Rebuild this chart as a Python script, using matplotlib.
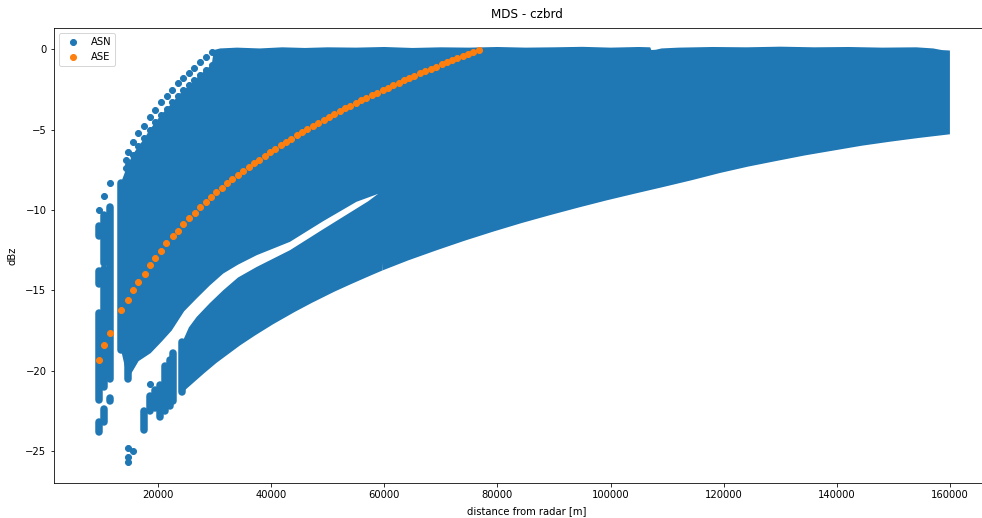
import numpy as np
import matplotlib.pyplot as plt

# ASE - one point per range bin (distance [m], dBz)
ase_x = [9610, 10550, 11560, 13500, 14680, 15620, 16560, 17690, 18570, 19510,
         20630, 21510, 22640, 23580, 24520, 25590, 26590, 27530, 28470,
         29370, 30370, 31270, 32270, 33170, 34170, 35070, 36070, 36980, 37880,
         38880, 39790, 40790, 41690, 42690, 43590, 44590, 45500, 46400, 47400,
         48300, 49310, 50210, 51210, 52110, 53110, 54020, 55020, 55920, 56820,
         57820, 58720, 59730, 60630, 61630, 62530, 63540, 64440, 65340, 66340,
         67240, 68240, 69150, 70150, 71050, 72050, 72950, 73950, 74850, 75750, 76760]
ase_y = [-19.34, -18.41, -17.64, -16.23, -15.57, -14.99, -14.47, -13.95, -13.43, -12.96,
         -12.52, -12.05, -11.63, -11.28, -10.86, -10.49, -10.16, -9.83, -9.50,
         -9.21, -8.91, -8.64, -8.35, -8.10, -7.83, -7.59, -7.33, -7.10, -6.88,
         -6.63, -6.42, -6.19, -5.98, -5.76, -5.56, -5.35, -5.16, -4.97, -4.77,
         -4.59, -4.39, -4.22, -4.03, -3.86, -3.68, -3.51, -3.34, -3.18, -3.02,
         -2.85, -2.70, -2.53, -2.39, -2.23, -2.08, -1.93, -1.79, -1.64, -1.50,
         -1.36, -1.21, -1.08, -0.94, -0.81, -0.67, -0.54, -0.40, -0.28, -0.16, -0.05]

# ASN - outer arcs in the upper left
arc_x = [14680, 15560, 16570, 17630, 18560, 19560, 20560, 21560, 22570, 23510,
         24510, 25560, 26450, 27450, 28450, 29520]
arc1_y = [-6.39, -5.76, -5.24, -4.75, -4.21, -3.75, -3.28, -2.92, -2.51, -2.13,
          -1.76, -1.45, -1.14, -0.79, -0.48, -0.17]
arc2_y = [-7.19, -6.56, -6.04, -5.55, -5.01, -4.55, -4.08, -3.72, -3.31, -2.93,
          -2.56, -2.25, -1.94, -1.59, -1.28, -0.97]

# ASN - dense upper band (outline of the point cloud)
up_top_x = [13500, 14680, 15560, 16570, 17630, 18560, 19560, 20560, 21560, 22570,
            23510, 24510, 25560, 26450, 27450, 28450, 29520, 29900, 31000, 34000,
            38000, 42000, 46000, 50000, 55000, 60000, 65000, 70000, 75000, 80000,
            85000, 90000, 95000, 100000, 105000, 107000, 107200, 108000, 109000, 112000,
            118000, 124000, 130000, 136000, 142000, 148000, 154000, 157000, 158500, 159950]
up_top_y = [-8.3, -7.19, -6.56, -6.04, -5.55, -5.01, -4.55, -4.08, -3.72, -3.31,
            -2.93, -2.56, -2.25, -1.94, -1.59, -1.28, -0.97, -0.05, 0.05, 0.1,
            0.05, 0.12, 0.08, 0.12, 0.1, 0.14, 0.08, 0.12, 0.1, 0.14,
            0.1, 0.12, 0.15, 0.1, 0.14, 0.12, -0.05, -0.03, 0.05, 0.1,
            0.14, 0.12, 0.16, 0.12, 0.14, 0.1, 0.12, 0.05, -0.05, -0.08]
up_bot_x = [159950, 154400, 149400, 144400, 139400, 134400, 129300, 124300, 119300, 114300,
            109300, 104300, 99300, 94300, 89300, 84300, 79300, 74300, 69300, 64200,
            59700, 58900, 55100, 49200, 43350, 37480, 34170, 31570, 29170, 26870,
            24650, 22450, 20650, 18750, 16600, 15600, 14680, 13500]
up_bot_y = [-5.29, -5.52, -5.75, -6.0, -6.3, -6.6, -6.95, -7.3, -7.7, -8.15,
            -8.57, -8.98, -9.40, -9.85, -10.32, -10.81, -11.34, -11.90, -12.50, -13.14,
            -13.76, -9.0, -9.49, -10.7, -11.98, -12.81, -13.4, -13.95, -14.7, -15.5,
            -16.3, -17.5, -18.2, -18.9, -19.4, -20.0, -20.5, -18.7]

# ASN - lower band below the thin gap
lo_top_x = [24360, 25500, 26870, 29170, 31570, 34170, 37480, 43350, 49200, 55100,
            57200, 58900, 59700]
lo_top_y = [-18.2, -17.3, -16.65, -15.8, -14.99, -14.2, -13.54, -12.5, -11.2, -9.91,
            -9.45, -9.0, -9.0]
lo_bot_x = [59700, 57700, 54200, 51200, 47200, 44200, 40400, 37200, 34500, 32200,
            30400, 28200, 26200, 24500, 24360]
lo_bot_y = [-13.76, -14.06, -14.6, -15.08, -15.78, -16.34, -17.1, -17.8, -18.43, -19.03,
            -19.5, -20.15, -20.77, -21.3, -21.3]

# ASN - columns of stacked points (distance, top, bottom)
col_x = [9610, 9610, 9610, 9610, 10550, 10550, 10550, 11560, 11560, 13500,
         14680, 17620, 18550, 19500, 20390, 21270, 22150, 22730, 24360]
col_top = [-11.0, -13.8, -16.4, -23.2, -10.3, -13.7, -22.4, -9.8, -21.7, -8.3,
           -18.3, -22.5, -21.6, -21.2, -20.9, -19.7, -19.3, -18.9, -18.2]
col_bot = [-11.6, -14.6, -21.8, -23.8, -13.3, -21.0, -23.2, -20.5, -21.9, -18.7,
           -20.5, -23.7, -22.5, -22.3, -22.9, -22.5, -22.2, -21.9, -21.3]

# ASN - single points
dot_x = [9610, 10550, 11560, 18550, 14800, 15680, 14680, 14680, 14390, 14390]
dot_y = [-9.97, -9.14, -8.35, -20.8, -24.83, -24.98, -25.35, -25.66, -6.9, -7.4]

blue = '#1f77b4'
orange = '#ff7f0e'

fig = plt.figure(figsize=(982 / 72, 518 / 72), dpi=72)
ax = fig.add_axes([53.5 / 982, 34.7 / 518, 946.5 / 982, 455.6 / 518])

ax.fill(up_top_x + up_bot_x, up_top_y + up_bot_y, color=blue, lw=0)
ax.fill(lo_top_x + lo_bot_x, lo_top_y + lo_bot_y, color=blue, lw=0)
cols = ax.vlines(col_x, col_bot, col_top, colors=blue, linewidth=7.5)
cols.set_capstyle('round')

ax.scatter(arc_x, arc1_y, color=blue, label='ASN')
ax.scatter(arc_x, arc2_y, color=blue)
ax.scatter(dot_x, dot_y, color=blue)
ax.scatter(ase_x, ase_y, color=orange, label='ASE', zorder=3)

ax.set_xlim(1572, 168800)
ax.set_ylim(-27.0, 1.34)
ax.set_xticks(np.arange(20000, 160001, 20000))
ax.set_title('MDS - czbrd', pad=10)
ax.set_xlabel('distance from radar [m]', labelpad=6)
ax.set_ylabel('dBz', labelpad=8)
ax.legend(loc='upper left')

fig.savefig('out.png', dpi=72)
